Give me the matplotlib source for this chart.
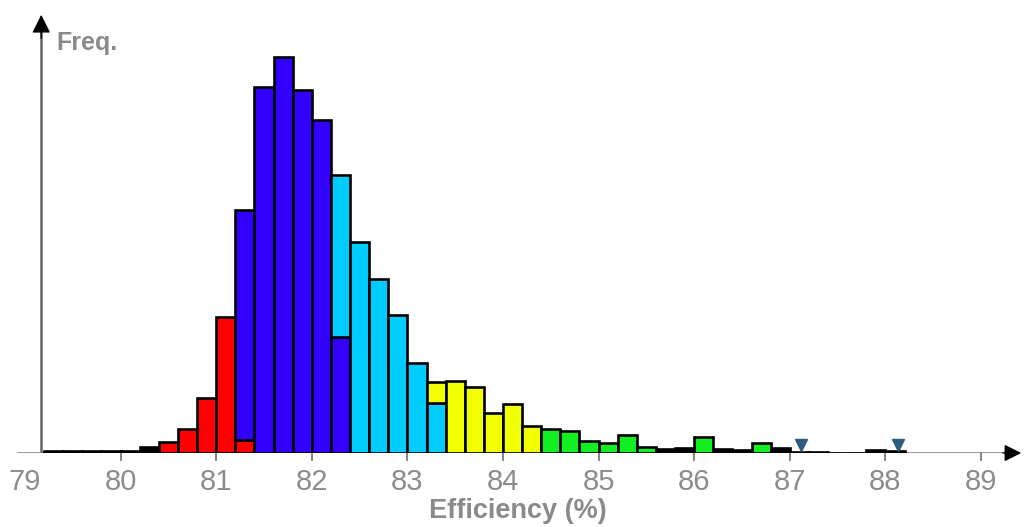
import numpy as np
import matplotlib
matplotlib.use("Agg")
import matplotlib.pyplot as plt

# bin left edges (width 0.2) from 79.2 to 88.0
bin_left = [round(79.2 + 0.2 * i, 1) for i in range(45)]

# frequency of each colour band per bin (arbitrary units)
black  = [2, 2, 2, 2.5, 2.5, 6, 0, 0, 0, 0, 0, 0, 0, 0, 0, 0, 0, 0, 0, 0, 0, 0,
          0, 0, 0, 0, 0, 0, 0, 0, 0, 0, 4, 5, 0, 4, 3, 0, 5, 1.5, 1.3, 0.5, 0.5, 3, 2]
red    = [0, 0, 0, 0, 0, 0, 11, 24, 55, 136, 13, 0, 0, 0, 0, 0, 0, 0, 0, 0, 0, 0,
          0, 0, 0, 0, 0, 0, 0, 0, 0, 0, 0, 0, 0, 0, 0, 0, 0, 0, 0, 0, 0, 0, 0]
blue   = [0, 0, 0, 0, 0, 0, 0, 0, 0, 0, 230, 366, 396, 363, 333, 116, 0, 0, 0, 0, 0, 0,
          0, 0, 0, 0, 0, 0, 0, 0, 0, 0, 0, 0, 0, 0, 0, 0, 0, 0, 0, 0, 0, 0, 0]
cyan   = [0, 0, 0, 0, 0, 0, 0, 0, 0, 0, 0, 0, 0, 0, 0, 162, 211, 174, 138, 90, 50, 0,
          0, 0, 0, 0, 0, 0, 0, 0, 0, 0, 0, 0, 0, 0, 0, 0, 0, 0, 0, 0, 0, 0, 0]
yellow = [0, 0, 0, 0, 0, 0, 0, 0, 0, 0, 0, 0, 0, 0, 0, 0, 0, 0, 0, 0, 21, 72,
          66, 40, 49, 27, 0, 0, 0, 0, 0, 0, 0, 0, 0, 0, 0, 0, 0, 0, 0, 0, 0, 0, 0]
green  = [0, 0, 0, 0, 0, 0, 0, 0, 0, 0, 0, 0, 0, 0, 0, 0, 0, 0, 0, 0, 0, 0,
          0, 0, 0, 0, 24, 22, 12, 10, 18, 6, 0, 0, 16, 0, 0, 10, 0, 0, 0, 0, 0, 0, 0]

markers_x = [87.12, 88.13]
xticks = list(range(79, 90))

bands = [(red, "#ff0000"), (blue, "#3300ff"), (cyan, "#00ccff"),
         (yellow, "#f2ff00"), (green, "#11ee22"), (black, "#000000")]

plt.rcParams['font.family'] = ['Liberation Sans', 'DejaVu Sans']

fig = plt.figure(figsize=(10.24, 5.27), dpi=100)
ax = fig.add_axes([0, 74 / 527, 1, 443 / 527])
ax.set_xlim(79 - 25 / 95.6, 79 + 999 / 95.6)
ax.set_ylim(0, 443)
ax.axis("off")

x = np.array(bin_left) + 0.1
bottom = np.zeros(len(bin_left))
for vals, col in bands:
    v = np.array(vals, dtype=float)
    m = v > 0
    ax.bar(x[m], v[m], width=0.2, bottom=bottom[m], color=col,
           edgecolor="black", linewidth=1.9, zorder=3)
    bottom += v

# axes with arrows
ax.plot([78.93, 89.3], [0, 0], color="#7a7a7a", lw=1.8, zorder=2)
ax.annotate("", xy=(89.45, 0), xytext=(89.2, 0),
            arrowprops=dict(arrowstyle="-|>", color="black", lw=1, mutation_scale=26),
            zorder=4)
ax.plot([79.17, 79.17], [0, 420], color="#666666", lw=1.8, zorder=2)
ax.annotate("", xy=(79.17, 441), xytext=(79.17, 412),
            arrowprops=dict(arrowstyle="-|>", color="black", lw=1, mutation_scale=28),
            zorder=4)

for t in xticks:
    if t > 79:
        ax.plot([t, t], [0, -7], color="#7a7a7a", lw=1.3, clip_on=False)
    ax.text(t, -29, str(t), ha="center", va="center", fontsize=21,
            color="#8c8c8c", clip_on=False)

ax.plot(markers_x, [8, 8], linestyle="none", marker="v", markersize=8,
        color="#2d5c7c", zorder=5)

ax.text(79.33, 410, "Freq.", fontsize=18, fontweight="bold", color="#8a8a8a",
        ha="left", va="center")
fig.text(0.506, 1 - 511 / 527, "Efficiency (%)", fontsize=19.5, fontweight="bold",
         color="#8a8a8a", ha="center", va="center")

fig.savefig("out.png", dpi=100)
